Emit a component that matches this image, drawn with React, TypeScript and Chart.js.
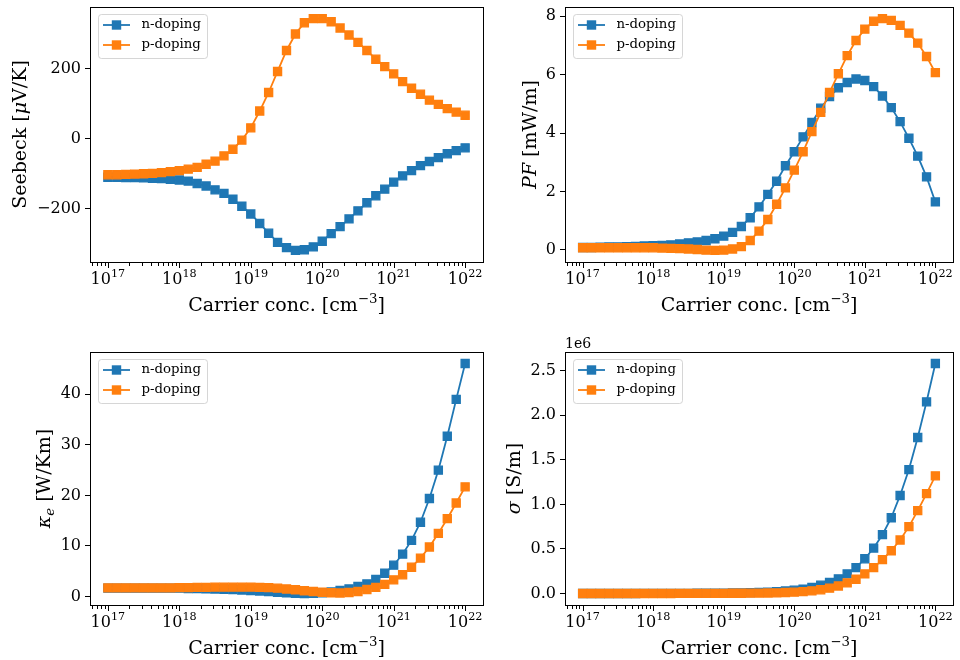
import React, { useEffect, useRef } from 'react';
import { Chart, registerables } from 'chart.js';

Chart.register(...registerables);

// ---------------- data ----------------
const concentration = [
  1.0e17, 1.334e17, 1.778e17, 2.371e17, 3.162e17, 4.217e17, 5.623e17, 7.499e17,
  1.0e18, 1.334e18, 1.778e18, 2.371e18, 3.162e18, 4.217e18, 5.623e18, 7.499e18,
  1.0e19, 1.334e19, 1.778e19, 2.371e19, 3.162e19, 4.217e19, 5.623e19, 7.499e19,
  1.0e20, 1.334e20, 1.778e20, 2.371e20, 3.162e20, 4.217e20, 5.623e20, 7.499e20,
  1.0e21, 1.334e21, 1.778e21, 2.371e21, 3.162e21, 4.217e21, 5.623e21, 7.499e21,
  1.0e22,
];

const seebeckN = [
  -110, -110, -111, -111, -112, -113, -114, -116, -118, -121, -128, -135, -146, -156, -173,
  -193, -215, -242, -270, -296, -311, -319, -317, -309, -293, -271, -251, -229, -206, -183,
  -163, -144, -124, -106, -91, -77, -65, -54, -43, -34, -26,
];
const seebeckP = [
  -103, -103, -102, -101, -100, -99, -97, -94, -91, -87, -82, -73, -64, -49, -30,
  -4, 31, 79, 132, 192, 252, 299, 331, 343, 343, 334, 316, 296, 275, 252,
  227, 206, 185, 163, 144, 127, 110, 98, 86, 76, 67,
];

const pfN = [
  0.08, 0.08, 0.09, 0.1, 0.1, 0.11, 0.12, 0.13, 0.14, 0.15, 0.17, 0.2, 0.24, 0.27, 0.32,
  0.38, 0.47, 0.6, 0.8, 1.1, 1.47, 1.9, 2.35, 2.88, 3.36, 3.87, 4.36, 4.85, 5.25, 5.55,
  5.73, 5.85, 5.8, 5.59, 5.27, 4.87, 4.39, 3.82, 3.21, 2.5, 1.64,
];
const pfP = [
  0.07, 0.07, 0.07, 0.07, 0.07, 0.07, 0.07, 0.07, 0.07, 0.06, 0.05, 0.04, 0.03, 0.01, -0.01,
  -0.02, -0.01, 0.03, 0.11, 0.32, 0.64, 1.04, 1.56, 2.12, 2.73, 3.36, 4.05, 4.71, 5.39, 6.03,
  6.65, 7.17, 7.56, 7.83, 7.92, 7.86, 7.69, 7.42, 7.08, 6.62, 6.07,
];

const kappaN = [
  1.65, 1.65, 1.65, 1.65, 1.65, 1.65, 1.65, 1.65, 1.65, 1.6, 1.6, 1.55, 1.5, 1.45, 1.4,
  1.3, 1.2, 1.1, 1.0, 0.85, 0.75, 0.65, 0.6, 0.65, 0.75, 0.9, 1.2, 1.5, 2.0, 2.5,
  3.4, 4.6, 6.2, 8.4, 11.1, 14.7, 19.4, 25.0, 31.7, 39.0, 46.1,
];
const kappaP = [
  1.7, 1.7, 1.7, 1.7, 1.7, 1.7, 1.7, 1.7, 1.75, 1.75, 1.8, 1.8, 1.85, 1.85, 1.85,
  1.85, 1.85, 1.8, 1.75, 1.65, 1.5, 1.35, 1.15, 1.0, 0.85, 0.75, 0.7, 0.8, 1.0, 1.4,
  1.8, 2.4, 3.3, 4.3, 5.8, 7.6, 9.8, 12.5, 15.4, 18.5, 21.7,
];

// conductivity in units of 1e6 S/m
const sigmaN = [
  0.0003, 0.0004, 0.0005, 0.0006, 0.0007, 0.0008, 0.0009, 0.001, 0.0012, 0.0014, 0.0017,
  0.002, 0.0024, 0.003, 0.0036, 0.0043, 0.0052, 0.0063, 0.0078, 0.0098, 0.0125, 0.016,
  0.021, 0.028, 0.037, 0.05, 0.068, 0.093, 0.125, 0.165, 0.22, 0.29, 0.39, 0.51, 0.66,
  0.85, 1.1, 1.39, 1.75, 2.15, 2.58,
];
const sigmaP = [
  0.0003, 0.0003, 0.0004, 0.0004, 0.0005, 0.0005, 0.0006, 0.0006, 0.0007, 0.0008, 0.0009,
  0.001, 0.0011, 0.0013, 0.0015, 0.0017, 0.002, 0.0025, 0.003, 0.0038, 0.0048, 0.006,
  0.008, 0.011, 0.015, 0.021, 0.03, 0.042, 0.06, 0.085, 0.12, 0.16, 0.22, 0.29, 0.38,
  0.48, 0.6, 0.75, 0.93, 1.12, 1.32,
];

const xTickValues = [1e17, 1e18, 1e19, 1e20, 1e21, 1e22];
const xTickExponents = ['17', '18', '19', '20', '21', '22'];

const seebeckTicks = [-200, 0, 200];
const seebeckTickLabels = ['\u2212200', '0', '200'];
const pfTicks = [0, 2, 4, 6, 8];
const pfTickLabels = ['0', '2', '4', '6', '8'];
const kappaTicks = [0, 10, 20, 30, 40];
const kappaTickLabels = ['0', '10', '20', '30', '40'];
const sigmaTicks = [0, 0.5, 1.0, 1.5, 2.0, 2.5];
const sigmaTickLabels = ['0.0', '0.5', '1.0', '1.5', '2.0', '2.5'];

const seriesLabels = ['n-doping', 'p-doping'];

// ---------------- style ----------------
const BLUE = '#1f77b4';
const ORANGE = '#ff7f0e';
const FONT = "'DejaVu Serif', serif";
const X_MIN = 5.623e16;
const X_MAX = 1.778e22;

type Seg = { text: string; size: number; italic?: boolean; dy?: number };
type Series = { label: string; color: string; values: number[] };
type Panel = {
  id: string;
  left: number;
  top: number;
  w: number;
  h: number;
  area: { left: number; top: number; right: number; bottom: number };
  yTitleX: number;
  yTitle: Seg[];
  series: Series[];
  yTicks: number[];
  yTickLabels: string[];
  offsetText?: string;
};

const LABEL = 19;
const xTitle: Seg[] = [
  { text: 'Carrier conc. [cm', size: LABEL },
  { text: '\u22123', size: 13.3, dy: -8 },
  { text: ']', size: LABEL },
];

const panels: Panel[] = [
  {
    id: 'seebeck', left: 0, top: 0, w: 490, h: 330,
    area: { left: 90, top: 7, right: 484, bottom: 262 },
    yTitleX: 26,
    yTitle: [
      { text: 'Seebeck [', size: LABEL },
      { text: '\u03bc', size: LABEL, italic: true },
      { text: 'V/K]', size: LABEL },
    ],
    series: [
      { label: seriesLabels[0], color: BLUE, values: seebeckN },
      { label: seriesLabels[1], color: ORANGE, values: seebeckP },
    ],
    yTicks: seebeckTicks, yTickLabels: seebeckTickLabels,
  },
  {
    id: 'pf', left: 490, top: 0, w: 470, h: 330,
    area: { left: 75, top: 7, right: 464, bottom: 262 },
    yTitleX: 46,
    yTitle: [
      { text: 'PF', size: LABEL, italic: true },
      { text: ' [mW/m]', size: LABEL },
    ],
    series: [
      { label: seriesLabels[0], color: BLUE, values: pfN },
      { label: seriesLabels[1], color: ORANGE, values: pfP },
    ],
    yTicks: pfTicks, yTickLabels: pfTickLabels,
  },
  {
    id: 'kappa', left: 0, top: 330, w: 490, h: 330,
    area: { left: 90, top: 22, right: 484, bottom: 275 },
    yTitleX: 49.5,
    yTitle: [
      { text: '\u03ba', size: LABEL, italic: true },
      { text: 'e', size: 13.3, italic: true, dy: 4 },
      { text: ' [W/Km]', size: LABEL },
    ],
    series: [
      { label: seriesLabels[0], color: BLUE, values: kappaN },
      { label: seriesLabels[1], color: ORANGE, values: kappaP },
    ],
    yTicks: kappaTicks, yTickLabels: kappaTickLabels,
  },
  {
    id: 'sigma', left: 490, top: 330, w: 470, h: 330,
    area: { left: 75, top: 22, right: 464, bottom: 275 },
    yTitleX: 30,
    yTitle: [
      { text: '\u03c3', size: LABEL, italic: true },
      { text: ' [S/m]', size: LABEL },
    ],
    series: [
      { label: seriesLabels[0], color: BLUE, values: sigmaN },
      { label: seriesLabels[1], color: ORANGE, values: sigmaP },
    ],
    yTicks: sigmaTicks, yTickLabels: sigmaTickLabels,
    offsetText: '1e6',
  },
];

function fontOf(s: Seg) {
  return `${s.italic ? 'italic ' : ''}${s.size}px ${FONT}`;
}

function drawRichCentered(ctx: CanvasRenderingContext2D, segs: Seg[], cx: number, baseline: number) {
  ctx.textAlign = 'left';
  ctx.textBaseline = 'alphabetic';
  const widths = segs.map((s) => {
    ctx.font = fontOf(s);
    return ctx.measureText(s.text).width;
  });
  const total = widths.reduce((a, b) => a + b, 0);
  let x = cx - total / 2;
  segs.forEach((s, i) => {
    ctx.font = fontOf(s);
    ctx.fillText(s.text, x, baseline + (s.dy || 0));
    x += widths[i];
  });
}

function paddedRange(arrs: number[][]) {
  let lo = Infinity;
  let hi = -Infinity;
  arrs.forEach((a) => a.forEach((v) => { lo = Math.min(lo, v); hi = Math.max(hi, v); }));
  const m = (hi - lo) * 0.05;
  return [lo - m, hi + m];
}

function makeDecor(p: Panel) {
  return {
    id: 'decor_' + p.id,
    afterDraw(chart: any) {
      const ctx: CanvasRenderingContext2D = chart.ctx;
      const a = chart.chartArea;
      const xs = chart.scales.x;
      ctx.save();
      // frame
      ctx.strokeStyle = '#000';
      ctx.lineWidth = 1;
      ctx.strokeRect(a.left + 0.5, a.top + 0.5, a.right - a.left, a.bottom - a.top);
      // x ticks (major + minor)
      ctx.beginPath();
      for (let d = 16; d <= 22; d++) {
        for (let m = 1; m <= 9; m++) {
          const v = m * Math.pow(10, d);
          if (v < xs.min || v > xs.max) continue;
          const px = Math.round(xs.getPixelForValue(v)) + 0.5;
          const len = m === 1 ? 5 : 3;
          ctx.moveTo(px, a.bottom + 1);
          ctx.lineTo(px, a.bottom + 1 + len);
        }
      }
      ctx.stroke();
      // x tick labels
      ctx.fillStyle = '#000';
      xTickValues.forEach((v, k) => {
        const px = xs.getPixelForValue(v);
        drawRichCentered(ctx, [
          { text: '10', size: 16 },
          { text: xTickExponents[k], size: 11.2, dy: -6.5 },
        ], px, a.bottom + 21.5);
      });
      // x title
      drawRichCentered(ctx, xTitle, (a.left + a.right) / 2, a.bottom + 49);
      // y title
      ctx.save();
      ctx.translate(p.yTitleX, (a.top + a.bottom) / 2);
      ctx.rotate(-Math.PI / 2);
      drawRichCentered(ctx, p.yTitle, 0, 0);
      ctx.restore();
      // offset text
      if (p.offsetText) {
        ctx.font = `14px ${FONT}`;
        ctx.textAlign = 'left';
        ctx.textBaseline = 'alphabetic';
        ctx.fillStyle = '#000';
        ctx.fillText(p.offsetText, a.left, a.top - 4);
      }
      // legend
      const bx = a.left + 8;
      const by = a.top + 7;
      const bw = 109;
      const bh = 44;
      ctx.beginPath();
      if ((ctx as any).roundRect) (ctx as any).roundRect(bx + 0.5, by + 0.5, bw, bh, 3);
      else ctx.rect(bx + 0.5, by + 0.5, bw, bh);
      ctx.fillStyle = 'rgba(255,255,255,0.8)';
      ctx.fill();
      ctx.strokeStyle = 'rgba(204,204,204,0.8)';
      ctx.lineWidth = 1;
      ctx.stroke();
      p.series.forEach((s, k) => {
        const ly = by + 11 + 20 * k;
        ctx.strokeStyle = s.color;
        ctx.lineWidth = 1.8;
        ctx.beginPath();
        ctx.moveTo(bx + 5, ly);
        ctx.lineTo(bx + 32, ly);
        ctx.stroke();
        ctx.fillStyle = s.color;
        ctx.fillRect(bx + 18.5 - 4.7, ly - 4.7, 9.4, 9.4);
        ctx.fillStyle = '#000';
        ctx.font = `13.3px ${FONT}`;
        ctx.textAlign = 'left';
        ctx.textBaseline = 'middle';
        ctx.fillText(s.label, bx + 43.5, ly);
      });
      ctx.restore();
    },
  };
}

function makeConfig(p: Panel): any {
  const [ymin, ymax] = paddedRange(p.series.map((s) => s.values));
  const n = p.series.length;
  return {
    type: 'line',
    data: {
      datasets: p.series.map((s, k) => ({
        label: s.label,
        data: concentration.map((c, i) => ({ x: c, y: s.values[i] })),
        borderColor: s.color,
        backgroundColor: s.color,
        pointBackgroundColor: s.color,
        pointBorderColor: s.color,
        borderWidth: 1.8,
        pointStyle: 'rect',
        pointRadius: 5.7,
        pointHoverRadius: 5.7,
        pointBorderWidth: 1.3,
        tension: 0,
        fill: false,
        order: n - k,
      })),
    },
    options: {
      responsive: false,
      animation: false,
      events: [],
      layout: { padding: { left: 0, top: p.area.top, right: p.w - p.area.right, bottom: 0 } },
      plugins: { legend: { display: false }, tooltip: { enabled: false } },
      scales: {
        x: {
          type: 'logarithmic',
          min: X_MIN,
          max: X_MAX,
          afterBuildTicks: (s: any) => { s.ticks = xTickValues.map((v) => ({ value: v })); },
          afterFit: (s: any) => { s.height = p.h - p.area.bottom; s.paddingLeft = 0; s.paddingRight = 0; },
          grid: { display: false },
          border: { display: false },
          ticks: { display: false },
        },
        y: {
          type: 'linear',
          min: ymin,
          max: ymax,
          afterBuildTicks: (s: any) => { s.ticks = p.yTicks.map((v) => ({ value: v })); },
          afterFit: (s: any) => { s.width = p.area.left; s.paddingTop = 0; s.paddingBottom = 0; },
          grid: { drawOnChartArea: false, drawTicks: true, tickLength: 5, color: '#000', lineWidth: 1 },
          border: { display: false },
          ticks: {
            autoSkip: false,
            padding: 4,
            color: '#000',
            font: { family: FONT, size: 16 },
            callback: (_v: any, i: number) => p.yTickLabels[i],
          },
        },
      },
    },
    plugins: [makeDecor(p)],
  };
}

function PanelChart({ panel }: { panel: Panel }) {
  const ref = useRef<HTMLCanvasElement>(null);
  useEffect(() => {
    if (!ref.current) return;
    const chart = new Chart(ref.current, makeConfig(panel));
    return () => chart.destroy();
  }, [panel]);
  return (
    <canvas
      ref={ref}
      width={panel.w}
      height={panel.h}
      style={{ position: 'absolute', left: panel.left, top: panel.top, width: panel.w, height: panel.h }}
    />
  );
}

export default function App() {
  return (
    <div style={{ position: 'absolute', left: 0, top: 0, width: 960, height: 660, background: '#fff' }}>
      {panels.map((p) => (
        <PanelChart key={p.id} panel={p} />
      ))}
    </div>
  );
}
